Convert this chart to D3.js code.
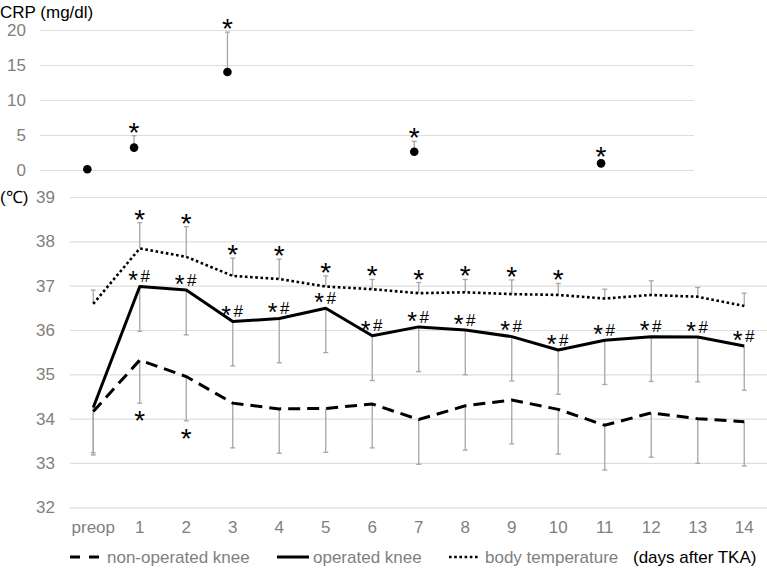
<!DOCTYPE html>
<html><head><meta charset="utf-8">
<script src="https://cdn.jsdelivr.net/npm/d3@7"></script>
<style>body{margin:0;background:#fff}svg{display:block}</style>
</head><body>
<svg id="chart" width="767" height="569"></svg>
<script>
// ---- data ----
const categories = ["preop","1","2","3","4","5","6","7","8","9","10","11","12","13","14"];
const crpDays = ["preop","1","3","7","11"];
const crpMean = [0.1, 3.2, 14.0, 2.6, 0.95];
const crpSD = [0, 1.7, 5.7, 1.5, 0.45];
const crpSig = [false, true, true, true, true];
const crpTicks = [0,5,10,15,20];

const bodyTemp   = [36.59,37.84,37.65,37.22,37.15,36.98,36.92,36.83,36.85,36.81,36.79,36.71,36.79,36.75,36.54];
const bodyTempSD = [0.31,0.58,0.68,0.40,0.45,0.24,0.22,0.24,0.29,0.32,0.26,0.21,0.32,0.21,0.29];
const bodyTempSig = [false,true,true,true,true,true,true,true,true,true,true,false,false,false,false];

const operated   = [34.25,36.98,36.90,36.19,36.26,36.49,35.87,36.07,36.00,35.85,35.55,35.77,35.85,35.84,35.64];
const operatedSD = [1.02,1.01,1.01,1.00,1.00,1.00,1.01,1.01,1.01,1.00,1.00,1.00,1.01,1.01,1.00];
const operatedSig = [false,true,true,true,true,true,true,true,true,true,true,true,true,true,true];

const nonOperated   = [34.16,35.32,34.95,34.35,34.22,34.23,34.33,33.98,34.29,34.42,34.21,33.85,34.13,34.00,33.93];
const nonOperatedSD = [0.98,0.97,1.00,1.01,1.00,0.99,0.99,1.01,1.00,0.99,1.01,1.01,1.00,1.01,1.00];
const nonOperatedSig = [false,true,true,false,false,false,false,false,false,false,false,false,false,false,false];

const tempTicks = [32,33,34,35,36,37,38,39];
const legendLabels = ["non-operated knee","operated knee","body temperature"];

// ---- setup ----
const FONT = "'Liberation Sans', Arial, sans-serif";
const GRAY = "#7f7f7f", GRID = "#dedede", ERR = "#a6a6a6";
const svg = d3.select("#chart").style("font-family", FONT);

const xTop = d3.scaleBand().domain(categories).range([64, 764.5]);
const yTop = d3.scaleLinear().domain([0,20]).range([170,30]);
const xBot = d3.scaleBand().domain(categories).range([70, 767.5]);
const yBot = d3.scaleLinear().domain([32,39]).range([507.3,197]);
const cxT = c => xTop(c) + xTop.bandwidth()/2;
const cxB = c => xBot(c) + xBot.bandwidth()/2;

function star(x, cy, fs=28) {
  svg.append("text").attr("x", x).attr("y", cy + 0.573*fs).attr("text-anchor","middle")
    .attr("font-size", fs).attr("fill","#000").text("*");
}
function starHash(x, cy) {
  star(x - 6.7, cy - 1, 25);
  svg.append("text").attr("x", x + 5.5).attr("y", cy + 0.36*17).attr("text-anchor","middle")
    .attr("font-size", 17).attr("fill","#000").text("#");
}
function errBar(x, y1, y2) {
  svg.append("line").attr("x1",x).attr("x2",x).attr("y1",y1).attr("y2",y2)
    .attr("stroke",ERR).attr("stroke-width",1.3);
  svg.append("line").attr("x1",x-2.5).attr("x2",x+2.5).attr("y1",y2).attr("y2",y2)
    .attr("stroke",ERR).attr("stroke-width",1.3);
}

// ---- top panel (CRP) ----
const gTopGrid = svg.append("g")
  .attr("transform","translate(40,0)")
  .call(d3.axisLeft(yTop).tickValues(crpTicks).tickFormat(d3.format("d")).tickSize(-654).tickPadding(14));
gTopGrid.select(".domain").remove();
gTopGrid.selectAll(".tick line").attr("stroke",GRID).attr("stroke-width",1.2);
gTopGrid.selectAll(".tick text").attr("fill",GRAY).attr("font-size",17).attr("font-family",FONT);

svg.append("text").attr("x",0).attr("y",18).attr("font-size",17).attr("fill","#000").text("CRP (mg/dl)");

crpDays.forEach((d,i) => {
  const x = cxT(d);
  if (crpSD[i] > 0) errBar(x, yTop(crpMean[i]), yTop(crpMean[i] + crpSD[i]));
  svg.append("circle").attr("cx",x).attr("cy",yTop(crpMean[i])).attr("r",4.3).attr("fill","#000");
  if (crpSig[i]) star(x, yTop(crpMean[i] + crpSD[i]) - 10);
});

// ---- bottom panel (temperature) ----
const gBot = svg.append("g")
  .attr("transform","translate(70,0)")
  .call(d3.axisLeft(yBot).tickValues(tempTicks).tickFormat(d3.format("d")).tickSize(-697.5).tickPadding(15));
gBot.select(".domain").remove();
gBot.selectAll(".tick line").attr("stroke",GRID).attr("stroke-width",1.2);
gBot.selectAll(".tick text").attr("fill",GRAY).attr("font-size",17).attr("font-family",FONT);

svg.append("text").attr("x",0).attr("y",203).attr("font-size",17).attr("fill","#000").text("(℃)");

const gX = svg.append("g").attr("transform","translate(0,517)")
  .call(d3.axisBottom(xBot).tickSize(0).tickPadding(0));
gX.select(".domain").remove();
gX.selectAll(".tick text").attr("fill",GRAY).attr("font-size",17).attr("font-family",FONT).attr("dy","0.95em");

// error bars
categories.forEach((c,i) => {
  const x = cxB(c);
  errBar(x, yBot(nonOperated[i]), yBot(nonOperated[i] - nonOperatedSD[i]));
  errBar(x, yBot(operated[i]), yBot(operated[i] - operatedSD[i]));
  errBar(x, yBot(bodyTemp[i]), yBot(bodyTemp[i] + bodyTempSD[i]));
});

const line = arr => d3.line().x((d,i) => cxB(categories[i])).y(d => yBot(d))(arr);
svg.append("path").attr("d", line(nonOperated)).attr("fill","none").attr("stroke","#000")
  .attr("stroke-width",3).attr("stroke-dasharray","12,7");
svg.append("path").attr("d", line(operated)).attr("fill","none").attr("stroke","#000")
  .attr("stroke-width",3).attr("stroke-linejoin","round");
svg.append("path").attr("d", line(bodyTemp)).attr("fill","none").attr("stroke","#000")
  .attr("stroke-width",2.6).attr("stroke-dasharray","2.6,2.6");

// annotations
categories.forEach((c,i) => {
  const x = cxB(c);
  if (bodyTempSig[i]) star(x, yBot(bodyTemp[i] + bodyTempSD[i]) - 10);
  if (operatedSig[i]) starHash(x, yBot(operated[i]) - 10.5);
  if (nonOperatedSig[i]) star(x, yBot(nonOperated[i] - nonOperatedSD[i]) + 11);
});

// legend
const ly = 557;
const legend = [
  {x1:70, x2:100, tx:107, dash:"10,9", w:3},
  {x1:277, x2:309, tx:313, dash:null, w:3},
  {x1:449, x2:480, tx:485, dash:"2.6,2.6", w:2.6}
];
legend.forEach((l,i) => {
  const ln = svg.append("line").attr("x1",l.x1).attr("x2",l.x2).attr("y1",ly).attr("y2",ly)
    .attr("stroke","#000").attr("stroke-width",l.w);
  if (l.dash) ln.attr("stroke-dasharray",l.dash);
  svg.append("text").attr("x",l.tx).attr("y",ly+6).attr("font-size",17).attr("fill",GRAY).text(legendLabels[i]);
});
svg.append("text").attr("x",633).attr("y",ly+6).attr("font-size",17).attr("fill","#000").text("(days after TKA)");
</script>
</body></html>
